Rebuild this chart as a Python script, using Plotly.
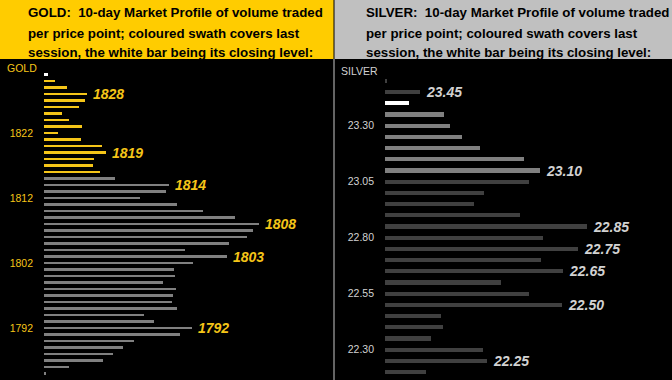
import plotly.graph_objects as go

# ---------------- data ----------------
gold_prices = [1831, 1830, 1829, 1828, 1827, 1826, 1825, 1824, 1823, 1822,
               1821, 1820, 1819, 1818, 1817, 1816, 1815, 1814, 1813, 1812,
               1811, 1810, 1809, 1808, 1807, 1806, 1805, 1804, 1803, 1802,
               1801, 1800, 1799, 1798, 1797, 1796, 1795, 1794, 1793, 1792,
               1791, 1790, 1789, 1788, 1787, 1786, 1785]
gold_volume = [4, 11, 23, 43, 41, 35, 18, 25, 38, 14,
               37, 58, 62, 50, 49, 56, 71, 125, 122, 96,
               133, 159, 191, 215, 209, 203, 185, 141, 183, 149,
               130, 131, 119, 132, 129, 128, 133, 100, 110, 148,
               136, 90, 79, 69, 59, 25, 2]
gold_close = 1831
gold_session = [1830, 1829, 1828, 1827, 1826, 1825, 1824, 1823, 1822,
                1821, 1820, 1819, 1818, 1817, 1816]
gold_labels = [1828, 1819, 1814, 1808, 1803, 1792]
gold_ticks = [1792, 1802, 1812, 1822]
gold_ticktext = ["1792", "1802", "1812", "1822"]

silver_prices = [23.50, 23.45, 23.40, 23.35, 23.30, 23.25, 23.20, 23.15, 23.10,
                 23.05, 23.00, 22.95, 22.90, 22.85, 22.80, 22.75, 22.70, 22.65,
                 22.60, 22.55, 22.50, 22.45, 22.40, 22.35, 22.30, 22.25, 22.20]
silver_volume = [2, 35, 24, 59, 65, 77, 95, 139, 155,
                 144, 99, 89, 135, 202, 158, 193, 156, 178,
                 116, 144, 177, 56, 58, 46, 98, 102, 41]
silver_close = 23.40
silver_session = [23.35, 23.30, 23.25, 23.20, 23.15, 23.10]
silver_labels = [23.45, 23.10, 22.85, 22.75, 22.65, 22.50, 22.25]
silver_ticks = [22.30, 22.55, 22.80, 23.05, 23.30]
silver_ticktext = ["22.30", "22.55", "22.80", "23.05", "23.30"]

gold_title = ["GOLD:  10-day Market Profile of volume traded",
              "per price point; coloured swath covers last",
              "session, the white bar being its closing level:"]
silver_title = ["SILVER:  10-day Market Profile of volume traded",
                "per price point; coloured swath covers last",
                "session, the white bar being its closing level:"]

# ---------------- styling ----------------
W, H = 672, 380
HEADER = 59
FONT = "Arial, Liberation Sans, sans-serif"
GOLD_C = "#F5C518"
GOLD_HEAD = "#FFCC00"
SILVER_HEAD = "#C0C0C0"
GRAY = "#808080"
DARK = "#404040"
SILVER_TXT = "#D2D2D2"


def px_x(p):
    return p / W


def px_y(p):
    return 1 - p / H


gold_colors = []
for p in gold_prices:
    if p == gold_close:
        gold_colors.append("#FFFFFF")
    elif p in gold_session:
        gold_colors.append(GOLD_C)
    else:
        gold_colors.append(GRAY)

silver_colors = []
for p in silver_prices:
    if abs(p - silver_close) < 1e-6:
        silver_colors.append("#FFFFFF")
    elif any(abs(p - s) < 1e-6 for s in silver_session):
        silver_colors.append(GRAY)
    else:
        silver_colors.append(DARK)

fig = go.Figure()
fig.add_trace(go.Bar(x=gold_volume, y=gold_prices, orientation="h",
                     marker=dict(color=gold_colors, line=dict(width=0)),
                     width=0.42, xaxis="x", yaxis="y", hoverinfo="x+y"))
fig.add_trace(go.Bar(x=silver_volume, y=silver_prices, orientation="h",
                     marker=dict(color=silver_colors, line=dict(width=0)),
                     width=0.018, xaxis="x2", yaxis="y2", hoverinfo="x+y"))

# gold axes: 1 volume unit = 1px, 6.5 px per $1
g_top = 1822 + (133 - HEADER) / 6.5
g_bot = 1822 - (H - 133) / 6.5
s_top = 23.30 + (125.7 - HEADER) / 224
s_bot = 23.30 - (H - 125.7) / 224

plot_top = px_y(HEADER)
tickfont_g = dict(family=FONT, size=10.5, color=GOLD_C)
tickfont_s = dict(family=FONT, size=10.5, color=SILVER_TXT)

fig.update_layout(
    width=W, height=H, autosize=False,
    margin=dict(l=0, r=0, t=0, b=0, pad=0),
    paper_bgcolor="black", plot_bgcolor="black",
    showlegend=False, bargap=0,
    xaxis=dict(domain=[px_x(44), px_x(333)], range=[0, 289], visible=False,
               fixedrange=True),
    yaxis=dict(domain=[0, plot_top], range=[g_bot, g_top], anchor="x",
               tickvals=gold_ticks, ticktext=gold_ticktext, tickfont=tickfont_g,
               ticks="", showgrid=False, zeroline=False, showline=False,
               ticklabelstandoff=10),
    xaxis2=dict(domain=[px_x(385), 1], range=[0, 287], visible=False,
                fixedrange=True),
    yaxis2=dict(domain=[0, plot_top], range=[s_bot, s_top], anchor="x2",
                tickvals=silver_ticks, ticktext=silver_ticktext, tickfont=tickfont_s,
                ticks="", showgrid=False, zeroline=False, showline=False,
                ticklabelstandoff=10),
)

shapes = [
    dict(type="rect", xref="paper", yref="paper", x0=0, x1=px_x(333.5),
         y0=px_y(HEADER), y1=1, fillcolor=GOLD_HEAD, line=dict(width=0), layer="below"),
    dict(type="rect", xref="paper", yref="paper", x0=px_x(334.5), x1=1,
         y0=px_y(HEADER), y1=1, fillcolor=SILVER_HEAD, line=dict(width=0), layer="below"),
    dict(type="line", xref="paper", yref="paper", x0=px_x(334), x1=px_x(334),
         y0=0, y1=px_y(HEADER), line=dict(color="#C8C8C8", width=1)),
]
fig.update_layout(shapes=shapes)

ann = []
line_y = [13, 33, 53]
for i, t in enumerate(gold_title):
    ann.append(dict(xref="paper", yref="paper", x=px_x(26), y=px_y(line_y[i]),
                    xanchor="left", yanchor="middle", text="<b>%s</b>" % t,
                    showarrow=False, font=dict(family=FONT, size=13.3, color="black")))
for i, t in enumerate(silver_title):
    ann.append(dict(xref="paper", yref="paper", x=px_x(364), y=px_y(line_y[i]),
                    xanchor="left", yanchor="middle", text="<b>%s</b>" % t,
                    showarrow=False, font=dict(family=FONT, size=13.3, color="black")))

ann.append(dict(xref="paper", yref="paper", x=px_x(5), y=px_y(68),
                xanchor="left", yanchor="middle", text="GOLD", showarrow=False,
                font=dict(family=FONT, size=10.5, color=GOLD_C)))
ann.append(dict(xref="paper", yref="paper", x=px_x(339), y=px_y(71),
                xanchor="left", yanchor="middle", text="SILVER", showarrow=False,
                font=dict(family=FONT, size=10.5, color=SILVER_TXT)))

for p in gold_labels:
    v = gold_volume[gold_prices.index(p)]
    ann.append(dict(xref="x", yref="y", x=v, y=p, xanchor="left", yanchor="middle",
                    xshift=4, text="<b><i>%d</i></b>" % p, showarrow=False,
                    font=dict(family=FONT, size=14, color=GOLD_C)))
for p in silver_labels:
    idx = min(range(len(silver_prices)), key=lambda i: abs(silver_prices[i] - p))
    v = silver_volume[idx]
    ann.append(dict(xref="x2", yref="y2", x=v, y=p, xanchor="left", yanchor="middle",
                    xshift=4, text="<b><i>%.2f</i></b>" % p, showarrow=False,
                    font=dict(family=FONT, size=14, color=SILVER_TXT)))
fig.update_layout(annotations=ann)

fig.write_html(
    "out.html",
    config={"displayModeBar": False},
    post_script="document.body.style.margin='0';document.body.style.padding='0';"
                "document.body.style.background='black';"
                "document.documentElement.style.overflow='hidden';",
)
